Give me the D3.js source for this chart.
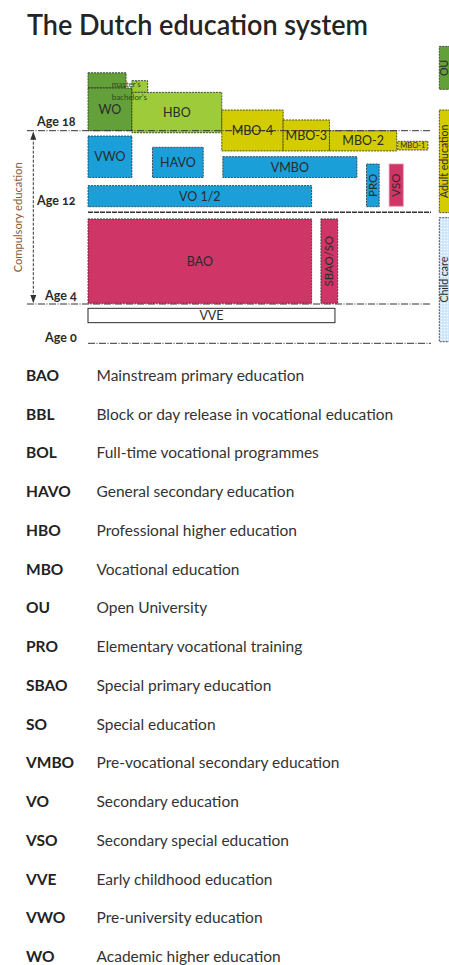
<!DOCTYPE html>
<html><head><meta charset="utf-8">
<script src="https://cdn.jsdelivr.net/npm/d3@7"></script>
<style>
html,body{margin:0;padding:0;background:#fff;}
svg{display:block;font-family:Lato,"Noto Sans",sans-serif;}
</style></head>
<body>
<script>
// ---- data ----
const blockNames  = ["WO-master","WO","HBO-master","HBO","MBO-4","MBO-3","MBO-2","MBO-1","VWO","HAVO","VMBO","VO 1/2","PRO","VSO","BAO","SBAO/SO","VVE"];
const blockLabels = ["","WO","","HBO","MBO-4","MBO-3","MBO-2","MBO-1","VWO","HAVO","VMBO","VO 1/2","PRO","VSO","BAO","SBAO/SO","VVE"];
const blockX0     = [0, 0, 12.8, 12.8, 39, 56.9, 70.4, 90.3, 0, 18.8, 39.3, 0, 81.2, 87.8, 0, 67.9, 0];
const blockX1     = [11.1, 12.8, 17.4, 39, 56.9, 70.4, 90, 99.1, 12.8, 33.6, 78.4, 65.2, 84.9, 91.9, 65.2, 72.8, 72];
const blockAgeLo  = [21.14, 18, 20.82, 17.85, 16.51, 16.51, 16.51, 16.58, 14.56, 14.56, 14.56, 12.41, 12.41, 12.45, 4.06, 4.06, 2.10];
const blockAgeHi  = [22.26, 21.14, 21.68, 20.82, 19.52, 18.79, 18, 17.22, 17.61, 16.78, 16.09, 13.96, 15.55, 15.55, 11.42, 11.42, 3.56];
const blockType   = ["wo","wo","hbo","hbo","mbo","mbo","mbo","mbo","vo","vo","vo","vo","vo","special","special","special","early"];

const stripLabels = ["OU","Adult education","Child care"];
const stripType   = ["wo","mbo","care"];
const stripAgeLo  = [21.04, 11.97, 0.16];
const stripAgeHi  = [24.2, 19.52, 11.53];

const ageTicks  = [18, 12, 4, 0];
const ageLabels = ["Age 18","Age 12","Age 4","Age 0"];

const degreeLabels = ["master's","bachelor's"];
const degreeAges   = [21.43, 20.43];

const abbrevs = ["BAO","BBL","BOL","HAVO","HBO","MBO","OU","PRO","SBAO","SO","VMBO","VO","VSO","VVE","VWO","WO"];
const descriptions = ["Mainstream primary education","Block or day release in vocational education","Full-time vocational programmes","General secondary education","Professional higher education","Vocational education","Open University","Elementary vocational training","Special primary education","Special education","Pre-vocational secondary education","Secondary education","Secondary special education","Early childhood education","Pre-university education","Academic higher education"];

// ---- styles ----
const fills = {wo:"#63a03a", hbo:"#9dcb3a", mbo:"#d2cc00", vo:"#1a9fd9", special:"#cf3567", early:"#ffffff", care:"url(#carePat)"};

const W = 449, H = 965;
const svg = d3.select("body").append("svg").attr("width", W).attr("height", H);

const defs = svg.append("defs");
const pat = defs.append("pattern").attr("id","carePat").attr("patternUnits","userSpaceOnUse").attr("width",3).attr("height",3);
pat.append("rect").attr("width",3).attr("height",3).attr("fill","#d3e9fb");
pat.append("rect").attr("width",1).attr("height",1).attr("fill","#ffffff");
pat.append("rect").attr("x",1.5).attr("y",1.5).attr("width",1).attr("height",1).attr("fill","#b9d9f3");

// scales
const x = d3.scaleLinear().domain([0, 100]).range([88, 431]);
const y = d3.scaleLinear().domain([0, 4, 12, 18, 24]).range([343.3, 304, 212.3, 130.7, 49.1]);

// title
svg.append("text").attr("x", 27).attr("y", 35)
  .attr("font-size", 29).attr("font-weight", 600).attr("fill", "#242424")
  .attr("textLength", 341).attr("lengthAdjust", "spacingAndGlyphs")
  .text("The Dutch education system");

const blocks = blockNames.map((n, i) => ({name:n, label:blockLabels[i], x0:blockX0[i], x1:blockX1[i], lo:blockAgeLo[i], hi:blockAgeHi[i], type:blockType[i]}));

const g = svg.append("g");
g.selectAll("rect.block").data(blocks).join("rect")
  .attr("class","block")
  .attr("x", d => x(d.x0)).attr("y", d => y(d.hi))
  .attr("width", d => x(d.x1) - x(d.x0)).attr("height", d => y(d.lo) - y(d.hi))
  .attr("fill", d => fills[d.type])
  .attr("stroke", d => d.name === "VSO" ? "#e58aa6" : "#2a2a2a")
  .attr("stroke-width", d => d.type === "early" ? 1 : 0.8)
  .attr("stroke-dasharray", d => d.type === "early" || d.name === "VSO" ? null : "2,1");

// block labels
const vertical = new Set(["PRO","VSO","SBAO/SO"]);
const small = new Set(["MBO-1"]);
g.selectAll("text.blab").data(blocks.filter(d => d.label)).join("text")
  .attr("class","blab")
  .attr("transform", d => {
    const cx = (x(d.x0) + x(d.x1)) / 2, cy = (y(d.lo) + y(d.hi)) / 2;
    return vertical.has(d.name) ? `translate(${cx},${cy}) rotate(-90)` : `translate(${cx},${cy})`;
  })
  .attr("dy", "0.36em")
  .attr("text-anchor","middle")
  .attr("font-size", d => small.has(d.name) ? 7.5 : (vertical.has(d.name) ? 11.5 : 12.5))
  .attr("fill", "#2b2b2b")
  .text(d => d.label);

// degree labels
g.selectAll("text.deg").data(degreeLabels).join("text")
  .attr("class","deg")
  .attr("x", x(6.9)).attr("y", (d,i) => y(degreeAges[i]))
  .attr("dy","0.35em").attr("font-size", 8).attr("fill","#2d4a18")
  .text(d => d);

// right strip
const strips = stripLabels.map((l,i) => ({label:l, type:stripType[i], lo:stripAgeLo[i], hi:stripAgeHi[i]}));
const sx0 = 439.3, sx1 = 452;
svg.selectAll("rect.strip").data(strips).join("rect")
  .attr("class","strip")
  .attr("x", sx0).attr("y", d => y(d.hi)).attr("width", sx1 - sx0)
  .attr("height", d => y(d.lo) - y(d.hi))
  .attr("fill", d => fills[d.type]).attr("stroke","#2a2a2a").attr("stroke-width",0.8)
  .attr("stroke-dasharray","2,1");
svg.selectAll("text.strip").data(strips).join("text")
  .attr("class","strip")
  .attr("transform", d => `translate(${444.3},${(y(d.lo)+y(d.hi))/2}) rotate(-90)`)
  .attr("dy","0.36em").attr("text-anchor","middle").attr("font-size",10.5).attr("fill","#2b2b2b")
  .text(d => d.label);

// age lines
const lineStart = {18:27, 12:88, 4:27, 0:88};
const labelX = {18:37, 12:37, 4:45, 0:45};
const labelDy = {18:-5, 12:-7, 4:-4, 0:-1.6};
const ages = svg.append("g");
ageTicks.forEach((a, i) => {
  ages.append("line").attr("x1", lineStart[a]).attr("x2", x(100))
    .attr("y1", y(a)).attr("y2", y(a))
    .attr("stroke", "#333").attr("stroke-width", a === 12 ? 1.4 : 1)
    .attr("stroke-dasharray", a === 12 ? "5,1" : "7,1.5,1,1.5");
  ages.append("text").attr("x", labelX[a]).attr("y", y(a) + labelDy[a])
    .attr("font-size", 12.5).attr("font-weight", 700).attr("fill", "#2a2a2a")
    .style("font-variant-numeric","oldstyle-nums")
    .text(ageLabels[i]);
});

// compulsory education arrow
const ax = 33.3;
ages.append("line").attr("x1", ax).attr("x2", ax).attr("y1", y(18) + 2).attr("y2", y(4) - 2)
  .attr("stroke","#333").attr("stroke-width",1).attr("stroke-dasharray","3,1.5");
ages.append("path").attr("d", `M${ax},${y(18)+1}l-3,8h6z`).attr("fill","#333");
ages.append("path").attr("d", `M${ax},${y(4)-1}l-3,-8h6z`).attr("fill","#333");
ages.append("text")
  .attr("transform", `translate(18.5,${(y(18)+y(4))/2}) rotate(-90)`)
  .attr("dy","0.35em").attr("text-anchor","middle").attr("font-size",11).attr("fill","#8a5b3a")
  .attr("textLength",110).attr("lengthAdjust","spacingAndGlyphs")
  .text("Compulsory education");

// legend
const leg = svg.append("g");
const rowY = d3.scalePoint().domain(abbrevs).range([381, 962]);
leg.selectAll("text.ab").data(abbrevs).join("text")
  .attr("class","ab").attr("x", 26).attr("y", d => rowY(d))
  .attr("font-size", 15.5).attr("font-weight", 700).attr("fill", "#222")
  .text(d => d);
leg.selectAll("text.desc").data(descriptions).join("text")
  .attr("class","desc").attr("x", 96.5).attr("y", (d,i) => rowY(abbrevs[i]))
  .attr("font-size", 15.5).attr("fill", "#333")
  .text(d => d);
</script>
</body></html>
